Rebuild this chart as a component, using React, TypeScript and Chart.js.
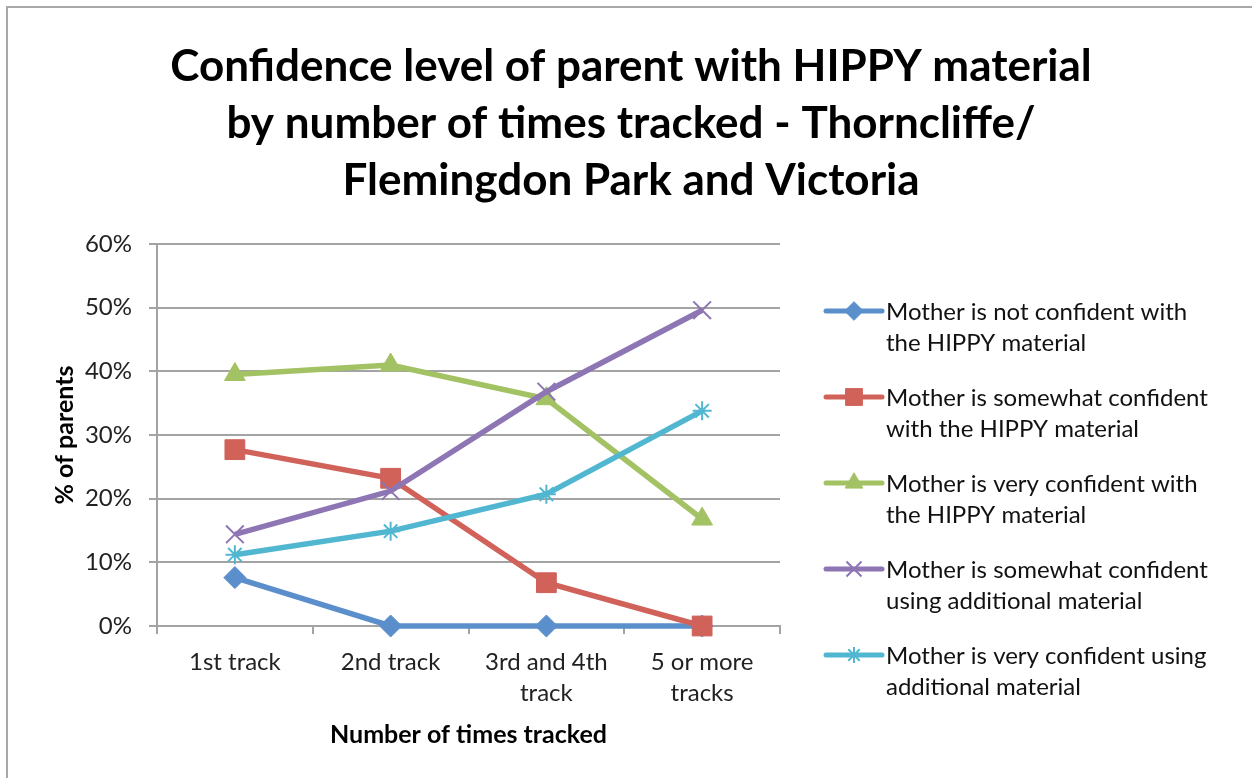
import React, { useEffect, useRef } from "react";
import { Chart, registerables, layouts } from "chart.js";
import { drawPoint } from "chart.js/helpers";

Chart.register(...registerables);

// ---------- data ----------
const categories: string[][] = [["1st track"], ["2nd track"], ["3rd and 4th", "track"], ["5 or more", "tracks"]];

const seriesLabels: string[][] = [
  ["Mother is not confident with", "the HIPPY material"],
  ["Mother is somewhat confident", "with the HIPPY material"],
  ["Mother is very confident with", "the HIPPY material"],
  ["Mother is somewhat confident", "using additional material"],
  ["Mother is very confident using", "additional material"],
];

const notConfidentHippy = [7.6, 0, 0, 0];
const somewhatConfidentHippy = [27.7, 23.2, 6.8, 0];
const veryConfidentHippy = [39.5, 41.0, 35.7, 16.8];
const somewhatConfidentAdditional = [14.4, 21.2, 36.8, 49.6];
const veryConfidentAdditional = [11.2, 14.9, 20.7, 33.8];

const titleLines = [
  "Confidence level of parent with HIPPY material",
  "by number of times tracked - Thorncliffe/",
  "Flemingdon Park and Victoria",
];
const yAxisTitle = "% of parents";
const xAxisTitle = "Number of times tracked";
const yMin = 0;
const yMax = 60;
const yStep = 10;

// ---------- styles ----------
const seriesValues = [
  notConfidentHippy,
  somewhatConfidentHippy,
  veryConfidentHippy,
  somewhatConfidentAdditional,
  veryConfidentAdditional,
];
const colors = ["#5A8FCB", "#D0625A", "#A3C263", "#8E75B4", "#51B7D1"];
const pointStyles = ["rectRot", "rect", "triangle", "crossRot", "star"];
const pointRadii = [11, 14, 12, 12.5, 9.5];
const pointBorderWidths = [1, 1, 1, 2, 2];

const FONT = "Lato, 'Open Sans', sans-serif";
const GRID = "#a3a3a3";
const TICK_SIZE = 24;

export default function App() {
  const ref = useRef<HTMLCanvasElement | null>(null);

  useEffect(() => {
    const canvas = ref.current;
    if (!canvas) return;

    const legendPlugin = {
      id: "sideLegend",
      beforeInit(chart: any) {
        const box: any = {
          position: "right",
          weight: 100,
          fullSize: false,
          options: { stackWeight: 1 },
          left: 0,
          top: 0,
          right: 0,
          bottom: 0,
          width: 0,
          height: 0,
          isHorizontal() {
            return false;
          },
          update(maxWidth: number, maxHeight: number) {
            box.width = 472;
            box.height = maxHeight;
          },
          draw() {
            const ctx = chart.ctx as CanvasRenderingContext2D;
            const ds = chart.data.datasets;
            ctx.save();
            for (let i = 0; i < ds.length; i++) {
              const d: any = ds[i];
              const y = box.top + 67 + i * 86;
              const x0 = box.left + 46;
              const x1 = box.left + 102;
              ctx.strokeStyle = d.borderColor;
              ctx.lineWidth = 5;
              ctx.lineCap = "round";
              ctx.beginPath();
              ctx.moveTo(x0, y);
              ctx.lineTo(x1, y);
              ctx.stroke();
              ctx.fillStyle = d.pointBackgroundColor;
              ctx.strokeStyle = d.pointBorderColor;
              ctx.lineWidth = d.pointBorderWidth;
              ctx.lineCap = "butt";
              drawPoint(
                ctx,
                {
                  pointStyle: d.pointStyle,
                  rotation: 0,
                  radius: d.pointRadius * 0.85,
                  borderWidth: d.pointBorderWidth,
                } as any,
                (x0 + x1) / 2,
                y
              );
              ctx.fillStyle = "#111";
              ctx.font = `${TICK_SIZE}px ${FONT}`;
              ctx.textAlign = "left";
              ctx.textBaseline = "middle";
              const lines: string[] = d.legendLines;
              lines.forEach((t, k) => ctx.fillText(t, box.left + 106, y + 1 + k * 31));
            }
            ctx.restore();
          },
        };
        layouts.addBox(chart, box);
      },
    };

    const chart = new Chart(canvas, {
      type: "line",
      data: {
        labels: categories,
        datasets: seriesValues.map((vals, i) => ({
          label: seriesLabels[i].join(" "),
          legendLines: seriesLabels[i],
          data: vals,
          borderColor: colors[i],
          backgroundColor: colors[i],
          borderWidth: 5.5,
          tension: 0,
          fill: false,
          clip: false,
          pointStyle: pointStyles[i],
          pointRadius: pointRadii[i],
          pointBackgroundColor: colors[i],
          pointBorderColor: colors[i],
          pointBorderWidth: pointBorderWidths[i],
          order: seriesValues.length - i,
        })) as any,
      },
      options: {
        responsive: false,
        animation: false,
        events: [],
        layout: { padding: { top: 0, left: 10, right: 0, bottom: 20 } },
        plugins: {
          legend: { display: false },
          tooltip: { enabled: false },
          title: {
            display: true,
            text: titleLines,
            color: "#000",
            font: { family: FONT, size: 44, weight: "bold", lineHeight: "57px" } as any,
            padding: { top: 38.5, bottom: 34.5 },
          },
        },
        scales: {
          x: {
            offset: true,
            afterFit: (axis: any) => {
              axis.height = 132;
            },
            grid: {
              display: true,
              offset: true,
              drawOnChartArea: false,
              drawTicks: true,
              tickLength: 8,
              color: GRID,
              lineWidth: 2,
            },
            border: { display: true, color: GRID, width: 2 },
            ticks: {
              color: "#222",
              padding: 12.5,
              maxRotation: 0,
              autoSkip: false,
              font: { family: FONT, size: TICK_SIZE, lineHeight: "31px" } as any,
            },
            title: {
              display: true,
              text: xAxisTitle,
              color: "#000",
              font: { family: FONT, size: 25, weight: "bold", lineHeight: 1.2 },
              padding: { top: 0, bottom: 8 },
            },
          },
          y: {
            min: yMin,
            max: yMax,
            afterFit: (axis: any) => {
              axis.width = 147;
            },
            grid: {
              color: GRID,
              lineWidth: 2,
              drawTicks: true,
              tickLength: 8,
            },
            border: { display: true, color: GRID, width: 2 },
            ticks: {
              stepSize: yStep,
              color: "#222",
              padding: 17,
              font: { family: FONT, size: TICK_SIZE },
              callback: (v: any) => `${v}%`,
            },
            title: {
              display: true,
              text: yAxisTitle,
              color: "#000",
              font: { family: FONT, size: 25, weight: "bold", lineHeight: 1.2 },
              padding: { top: 40, bottom: 0 },
            },
          },
        },
      },
      plugins: [legendPlugin],
    } as any);

    return () => chart.destroy();
  }, []);

  return (
    <div
      style={{
        position: "fixed",
        left: 0,
        top: 0,
        width: 1252,
        height: 778,
        overflow: "hidden",
        background: "#fff",
      }}
    >
      <div
        style={{
          position: "absolute",
          left: 6,
          top: 6,
          width: 1300,
          height: 820,
          border: "2px solid #a8a8a8",
        }}
      />
      <canvas
        ref={ref}
        width={1252}
        height={778}
        style={{ position: "absolute", left: 0, top: 0, width: 1252, height: 778 }}
      />
    </div>
  );
}
